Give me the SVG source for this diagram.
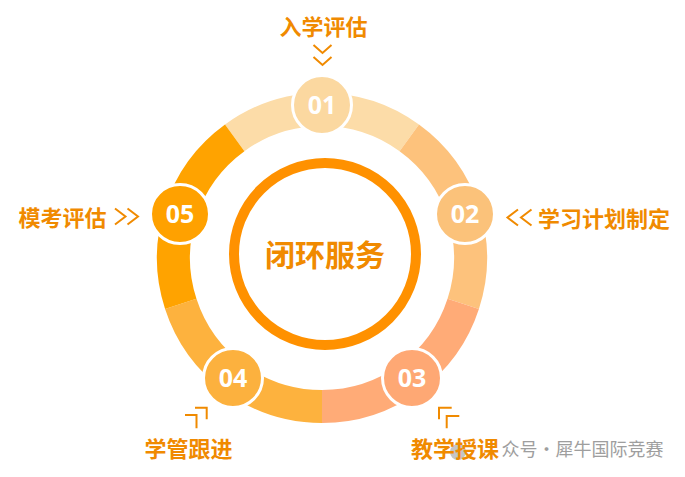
<svg xmlns="http://www.w3.org/2000/svg" width="685" height="477" viewBox="0 0 685 477">
<style>
.seg{fill:none;stroke-width:33;stroke-linecap:butt}
.node circle{stroke:#fff;stroke-width:3}
.num{font-family:"Open Sans","Liberation Sans",sans-serif;font-weight:700;font-size:25px;fill:#fff;text-anchor:middle;dominant-baseline:central}
.lbl{font-family:"Noto Sans CJK SC","Noto Sans",sans-serif;font-weight:700;font-size:22px;fill:#F08A00;text-anchor:middle;dominant-baseline:central}
.chev{fill:none;stroke:#F08A00;stroke-width:2;stroke-linecap:butt;stroke-linejoin:miter}
.wm{font-family:"Noto Sans CJK SC","Noto Sans",sans-serif;font-size:18px;fill:#9E9E9E;dominant-baseline:central}
</style>
<rect width="685" height="477" fill="#fff"/>
<g id="ring">
<path class="seg" stroke="#FCDCA8" d="M234.71,137.86 A148.5,148.5 0 0 1 409.29,137.86"/>
<path class="seg" stroke="#FDC27C" d="M409.29,137.86 A148.5,148.5 0 0 1 463.23,303.89"/>
<path class="seg" stroke="#FFAB77" d="M463.23,303.89 A148.5,148.5 0 0 1 322,406.5"/>
<path class="seg" stroke="#FDB23E" d="M322,406.5 A148.5,148.5 0 0 1 180.77,303.89"/>
<path class="seg" stroke="#FFA300" d="M180.77,303.89 A148.5,148.5 0 0 1 234.71,137.86"/>
</g>
<g id="center">
<circle cx="325" cy="254" r="91" fill="none" stroke="#FF9100" stroke-width="10"/>
<text class="lbl" x="325" y="253" style="font-size:30px">闭环服务</text>
</g>
<g id="watermark">
<circle cx="458" cy="452" r="8" fill="#9E9E9E" opacity="0.6"/>
<text class="wm" x="501.5" y="448">众号·犀牛国际竞赛</text>
</g>
<g id="node01" class="node">
<circle cx="322" cy="105" r="29.5" fill="#FBD8A0"/>
<text class="num" x="322" y="104">01</text>
</g>
<g id="node02" class="node">
<circle cx="465" cy="214" r="29.5" fill="#FBC27A"/>
<text class="num" x="465" y="213">02</text>
</g>
<g id="node03" class="node">
<circle cx="412" cy="378" r="29.5" fill="#FEA874"/>
<text class="num" x="412" y="377">03</text>
</g>
<g id="node04" class="node">
<circle cx="233" cy="378" r="29.5" fill="#FCB13E"/>
<text class="num" x="233" y="377">04</text>
</g>
<g id="node05" class="node">
<circle cx="180" cy="214" r="29.5" fill="#FFA100"/>
<text class="num" x="180" y="213">05</text>
</g>
<g id="label01">
<text class="lbl" x="323.5" y="25">入学评估</text>
<path class="chev" d="M313.5,45 L322.5,53 L331.5,45 M313.5,57 L322.5,65 L331.5,57"/>
</g>
<g id="label02">
<path class="chev" d="M518,209.5 L507.5,217.5 L518,225.5 M531.5,209.5 L521,217.5 L531.5,225.5"/>
<text class="lbl" x="604" y="217">学习计划制定</text>
</g>
<g id="label03">
<path class="chev" d="M451.7,407.7 H439 V419.3 M459.3,416 H446.7 V428.3"/>
<text class="lbl" x="455" y="447">教学授课</text>
</g>
<g id="label04">
<path class="chev" d="M185,415 H196.5 V428.3 M195,407.7 H206.7 V419.3"/>
<text class="lbl" x="188.5" y="447">学管跟进</text>
</g>
<g id="label05">
<text class="lbl" x="62.5" y="216">模考评估</text>
<path class="chev" d="M115,208.5 L125.5,216.5 L115,224.5 M127.5,208.5 L138,216.5 L127.5,224.5"/>
</g>
</svg>
